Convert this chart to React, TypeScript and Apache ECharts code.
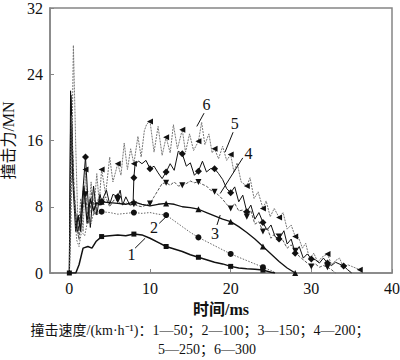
import React, { useEffect, useRef } from "react";
import * as echarts from "echarts";

const xTicks = [0, 10, 20, 30, 40];

const line1: number[][] = [[0,0],[0.8,0],[1.2,1],[1.7,3],[2.3,3.2],[2.8,3],[3.3,3.8],[4,4.4],[5,4.5],[6,4.6],[7,4.5],[8,4.7],[9,4.6],[10,4.2],[11,3.7],[12,3.2],[13,2.9],[14,2.6],[15,2.2],[16,1.9],[17,1.6],[18,1.3],[19,1.1],[20,0.8],[21,0.6],[22,0.5],[23,0.45],[24,0.35],[25,0.1],[25.5,0]];
const line2: number[][] = [[0,0],[0.25,19],[0.6,9],[0.9,4],[1.2,3.2],[1.5,5],[1.9,4.5],[2.3,6.5],[2.7,6],[3,7.2],[3.5,7.1],[4,7.4],[5,7.3],[6,7.1],[7,7.2],[8,7.3],[9,7.2],[10,7.3],[11,7.1],[12,7.0],[13,6.3],[14,5.6],[15,4.9],[16,4.3],[17,3.8],[18,3.3],[19,2.8],[20,2.3],[21,1.9],[22,1.5],[23,1.1],[24,0.7],[25,0.3],[25.6,0]];
const line3: number[][] = [[0,0],[0.2,21.5],[0.5,10],[0.8,5],[1.1,7],[1.4,5],[1.8,10.5],[2.2,6],[2.6,9],[3,7.5],[3.4,8.5],[3.8,8.2],[4,8.6],[5,8.5],[6,8.4],[7,8.3],[8,8.6],[9,8.3],[10,8.1],[11,8.3],[12,8.4],[13,8.3],[14,8.0],[15,7.9],[16,7.7],[17,7.3],[18,6.9],[19,6.5],[20,6.2],[21,5.6],[22,4.9],[23,4.1],[24,3.2],[25,2.3],[26,1.4],[27,0.6],[28,0]];
const line4: number[][] = [[0,0],[0.3,18],[0.6,10],[0.9,6],[1.2,4],[1.5,7],[2,9.5],[2.4,6],[2.8,9.8],[3.2,7],[3.6,9],[4,8.5],[4.5,9.2],[5,8],[5.5,8.8],[6,8.8],[6.5,8.2],[7,8.5],[7.5,8.2],[8,8.3],[8.5,8.1],[9,8.0],[9.5,8.2],[10,8.4],[10.5,9.2],[11,10.0],[11.5,10.8],[12,10.9],[12.5,10.6],[13,11.0],[13.5,10.5],[14,10.6],[14.5,10.8],[15,11.1],[15.5,10.9],[16,11.0],[16.5,10.7],[17,10.5],[17.5,10.0],[18,9.8],[18.5,9.4],[19,8.9],[19.5,8.3],[20,7.8],[20.5,8.4],[21,7.5],[21.5,7.6],[22,6.8],[22.5,7.5],[23,5.9],[23.5,6.2],[24,5.0],[24.5,5.5],[25,4.2],[25.5,4.8],[26,4.4],[26.5,3.9],[27,3.0],[27.5,3.4],[28,2.7],[28.5,2.0],[29,1.6],[29.5,1.2],[30,0.8],[30.5,1.1],[31,0.7],[31.5,0.9],[32,0.7],[32.5,0.4],[33,0]];
const line5: number[][] = [[0,0],[0.15,22],[0.4,12],[0.7,8],[1,5],[1.3,6],[1.6,9],[2,14],[2.3,9],[2.6,5.5],[3,10.5],[3.4,7],[3.8,9.5],[4,8.6],[4.6,10],[5,8.3],[5.4,9.5],[6,9.2],[6.3,10],[6.6,8.2],[7,9.2],[7.5,8.2],[7.9,8.4],[8,11.5],[8.15,13.2],[8.6,13.5],[9,13.2],[9.5,13.6],[10,12.6],[10.5,12.9],[11,12.1],[11.5,11.4],[12,12.2],[12.5,13.2],[13,12.4],[13.5,14.7],[14,14.4],[14.5,12.9],[15,13.3],[15.5,11.8],[16,12.3],[16.5,13.5],[17,12.2],[17.5,12.6],[18,12.6],[18.5,12],[19,11.3],[19.5,10.2],[20,9.7],[20.5,10.4],[21,8.6],[21.5,9.4],[22,7.4],[22.5,8.2],[23,6.5],[23.5,7.3],[24,6.1],[24.5,5.2],[25,5.8],[25.5,4.4],[26,4.1],[26.6,5.1],[27,3.5],[27.5,4.1],[28,2.4],[28.5,3.2],[29,1.8],[29.5,2.3],[30,1.7],[30.5,1.6],[31,1.2],[31.5,1.8],[32,1.2],[32.5,0.9],[33,1.3],[34,0.85],[34.5,0.4],[35,0]];
const line6: number[][] = [[0,0],[0.2,6],[0.5,27.5],[0.8,15],[1.1,4.5],[1.4,9],[1.7,5],[2,12.5],[2.3,6],[2.7,11],[3,7],[3.4,12],[3.7,8.5],[4,12.5],[4.5,9.5],[5,14],[5.4,11],[6,13.2],[6.4,11.8],[6.8,15.7],[7.2,12.5],[7.6,15],[8,13.2],[8.5,16.5],[8.9,14],[9.3,17.2],[9.6,18],[10,18.3],[10.5,14.6],[11,17.7],[11.5,14.2],[12,16.4],[12.5,14.5],[12.9,17.9],[13.4,15],[14,17.3],[14.4,14.6],[14.9,16.8],[15.4,14.8],[16,15.9],[16.4,18.2],[16.8,15.5],[17.3,16.8],[17.7,14.5],[18,15.0],[18.5,13.8],[19,15.3],[19.5,13.6],[20,14.3],[20.4,12.2],[20.8,13.3],[21.3,11],[22,10.5],[22.4,11.5],[22.9,9],[23.4,9.8],[24,7.8],[24.4,8.7],[24.9,6.8],[25.4,7.8],[26,6.7],[26.5,7.3],[27,5.3],[27.5,5.8],[28,4.4],[28.4,4.3],[28.9,3],[29.3,3.6],[29.8,1.6],[30.3,2.4],[30.8,1.3],[31.3,1.9],[32,2.3],[32.5,1.0],[33,1.5],[33.5,1.8],[34,0.6],[34.5,1.0],[35,0.8],[36,0.4],[36.3,0]];

const markers1 = [0, 4, 8, 12, 16, 20, 24];
const markers2 = [4, 8, 12, 16, 20, 24];
const markers3 = [4, 8, 12, 16, 20, 24, 28];
const markers4 = [2, 4, 6, 8, 10, 12, 14, 16, 18, 20, 22, 24, 26, 28, 30, 32];
const markers5 = [2, 4, 6, 8, 10, 12, 14, 16, 18, 20, 22, 24, 26, 28, 30, 32, 34];
const markers6 = [2, 4, 6, 8, 10, 12, 14, 16, 18, 20, 22, 24, 26, 28, 32, 36];

// annotation labels: [label, text position, leader start, leader end] in data coords
const annotations: { label: string; at: number[]; from: number[]; to: number[] }[] = [
  { label: "1", at: [7.7, 2.2], from: [8.15, 3.0], to: [9.4, 4.2] },
  { label: "2", at: [10.5, 5.5], from: [11.15, 6.0], to: [12.1, 6.9] },
  { label: "3", at: [18.05, 4.8], from: [18.3, 5.8], to: [18.7, 7.0] },
  { label: "4", at: [22.2, 14.4], from: [21.5, 13.9], to: [18.7, 9.6] },
  { label: "5", at: [20.5, 18.1], from: [20.3, 17.0], to: [19.3, 14.6] },
  { label: "6", at: [17.0, 20.3], from: [16.7, 19.3], to: [15.8, 17.7] },
];

const captionLine1 = "撞击速度/(km·h⁻¹)：1—50；2—100；3—150；4—200；";
const captionLine2 = "5—250；6—300";

const SERIF = "'Liberation Serif', 'Times New Roman', 'Noto Sans CJK SC', serif";

function build(data: number[][], marks: number[], sym: string) {
  return data.map((p) => ({
    value: p,
    symbol: marks.includes(p[0]) ? sym : "none",
  }));
}

export default function App() {
  const ref = useRef<HTMLDivElement>(null);
  useEffect(() => {
    if (!ref.current) return;
    const chart = echarts.init(ref.current, undefined, { renderer: "svg" });
    const mk = (
      name: string,
      data: number[][],
      marks: number[],
      sym: string,
      color: string,
      width: number,
      type: any,
      rotate = 0,
      size = 6
    ) => ({
      name,
      type: "line",
      data: build(data, marks, sym),
      symbol: sym,
      symbolSize: size,
      symbolRotate: rotate,
      showSymbol: true,
      showAllSymbol: true,
      lineStyle: { color, width, type },
      itemStyle: { color: "#111", borderWidth: 0 },
      z: 3,
    });
    chart.setOption({
      animation: false,
      grid: {
        left: 50, right: 8, top: 8, bottom: 87,
        outerBoundsMode: "none", containLabel: false,
        show: true, borderColor: "#858585", borderWidth: 1.5,
      },
      xAxis: {
        type: "value",
        min: -2.4,
        max: 40,
        name: "时间/ms",
        nameLocation: "middle",
        nameGap: 28,
        nameTextStyle: { fontFamily: SERIF, fontSize: 16, fontWeight: "bold", color: "#111" },
        axisLine: { onZero: false, lineStyle: { color: "#858585", width: 1.5 } },
        axisTick: { inside: true, length: 4, customValues: xTicks, lineStyle: { color: "#858585" } },
        axisLabel: { customValues: xTicks, fontFamily: SERIF, fontSize: 16, color: "#111", margin: 7 },
        splitLine: { show: false },
      },
      yAxis: {
        type: "value",
        min: 0,
        max: 32,
        interval: 8,
        name: "撞击力/MN",
        nameLocation: "middle",
        nameGap: 30,
        nameTextStyle: { fontFamily: SERIF, fontSize: 16, color: "#111" },
        axisLine: { show: true, onZero: false, lineStyle: { color: "#858585", width: 1.5 } },
        axisTick: { show: true, inside: true, length: 4, lineStyle: { color: "#858585" } },
        axisLabel: { fontFamily: SERIF, fontSize: 16, color: "#111", margin: 7 },
        splitLine: { show: false },
      },
      series: [
        mk("6", line6, markers6, "triangle", "#777", 1, [2, 1], 90),
        mk("5", line5, markers5, "diamond", "#111", 1, "solid", 0, 7),
        mk("4", line4, markers4, "triangle", "#555", 1, [3, 1.5], 180),
        mk("3", line3, markers3, "triangle", "#111", 1.3, "solid"),
        mk("2", line2, markers2, "circle", "#666", 1, [1.5, 1.5]),
        mk("1", line1, markers1, "rect", "#111", 1.5, "solid", 0, 5),
      ],
    });
    const px = (p: number[]) => chart.convertToPixel({ xAxisIndex: 0, yAxisIndex: 0 }, p) as number[];
    const graphics: any[] = [];
    annotations.forEach((a) => {
      const t = px(a.at);
      const f = px(a.from);
      const e = px(a.to);
      graphics.push({
        type: "text",
        x: t[0],
        y: t[1],
        style: { text: a.label, font: `16px ${SERIF}`, fill: "#111", align: "center", verticalAlign: "middle" },
        z: 10,
      });
      graphics.push({
        type: "line",
        shape: { x1: f[0], y1: f[1], x2: e[0], y2: e[1] },
        style: { stroke: "#111", lineWidth: 1 },
        z: 10,
      });
    });
    graphics.push({
      type: "text",
      left: "center",
      top: 323,
      style: { text: captionLine1, font: `14px ${SERIF}`, fill: "#111" },
    });
    graphics.push({
      type: "text",
      left: 158,
      top: 342,
      style: { text: captionLine2, font: `14px ${SERIF}`, fill: "#111" },
    });
    chart.setOption({ graphic: graphics });
    return () => chart.dispose();
  }, []);
  return <div ref={ref} style={{ width: 400, height: 360, position: "absolute", left: 0, top: 0 }} />;
}
